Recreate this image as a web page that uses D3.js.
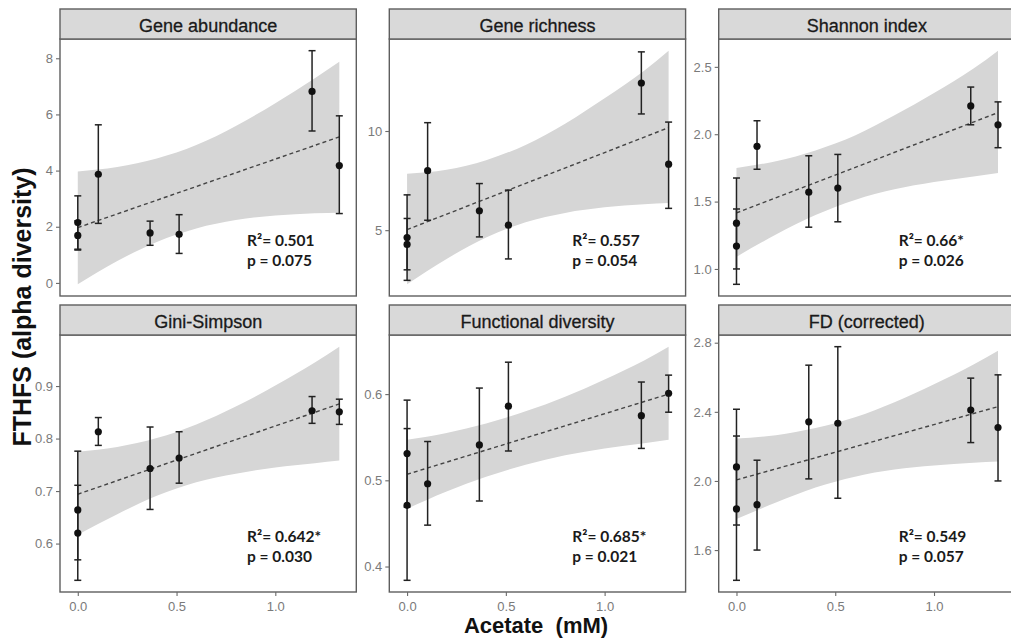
<!DOCTYPE html>
<html>
<head>
<meta charset="utf-8">
<script src="https://cdn.jsdelivr.net/npm/d3@7"></script>
<style>
  body { margin: 0; background: #fff; }
  .tick text { font-family: "Liberation Sans", Arial, sans-serif; font-size: 13px; fill: #7a7a7a; }
  .tick line { stroke: #6a6a6a; stroke-width: 1.1; }
</style>
</head>
<body>
<div id="chart"></div>
<script>
// acetate concentration of each sample (mM), shared by all panels
var acetate = [0, 0, 0.104, 0.366, 0.513, 1.186, 1.324];
// x positions where the confidence band edges were read
var bandX = [0, 0.2, 0.4, 0.6, 0.8, 1.0, 1.2, 1.324];
var xTicks = [0, 0.5, 1.0];

var panelNames = ["Gene abundance", "Gene richness", "Shannon index",
                  "Gini-Simpson", "Functional diversity", "FD (corrected)"];

// Gene abundance
var abundanceMean = [2.15, 1.69, 3.87, 1.78, 1.73, 6.82, 4.18];
var abundanceLo   = [1.20, 1.17, 2.12, 1.34, 1.05, 5.41, 2.47];
var abundanceHi   = [3.10, 2.21, 5.63, 2.20, 2.43, 8.27, 5.95];
var abundanceFit  = [1.97, 5.20];
var abundanceBandLo = [-0.05, 0.78, 1.46, 1.94, 2.24, 2.40, 2.48, 2.50];
var abundanceBandHi = [3.97, 4.13, 4.43, 4.91, 5.59, 6.40, 7.29, 7.88];

// Gene richness
var richnessMean = [4.63, 4.28, 8.00, 5.98, 5.25, 12.42, 8.33];
var richnessLo   = [2.47, 3.00, 5.50, 4.66, 3.55, 10.86, 6.10];
var richnessHi   = [6.78, 5.59, 10.42, 7.35, 7.02, 13.99, 10.45];
var richnessFit  = [5.03, 10.17];
var richnessBandLo = [2.27, 3.55, 4.63, 5.40, 5.87, 6.15, 6.31, 6.37];
var richnessBandHi = [7.85, 8.05, 8.53, 9.30, 10.37, 11.65, 13.04, 14.05];

// Shannon index
var shannonMean = [1.34, 1.17, 1.91, 1.57, 1.60, 2.21, 2.07];
var shannonLo   = [1.00, 0.886, 1.74, 1.31, 1.35, 2.07, 1.90];
var shannonHi   = [1.675, 1.445, 2.10, 1.84, 1.85, 2.35, 2.24];
var shannonFit  = [1.416, 2.16];
var shannonBandLo = [1.09, 1.255, 1.40, 1.512, 1.591, 1.645, 1.687, 1.712];
var shannonBandHi = [1.75, 1.80, 1.88, 1.99, 2.14, 2.305, 2.487, 2.62];

// Gini-Simpson
var giniMean = [0.664, 0.620, 0.813, 0.743, 0.763, 0.853, 0.851];
var giniLo   = [0.569, 0.530, 0.787, 0.665, 0.715, 0.829, 0.827];
var giniHi   = [0.776, 0.711, 0.840, 0.822, 0.813, 0.880, 0.875];
var giniFit  = [0.694, 0.866];
var giniBandLo = [0.617, 0.656, 0.691, 0.717, 0.733, 0.745, 0.753, 0.758];
var giniBandHi = [0.775, 0.784, 0.801, 0.827, 0.861, 0.901, 0.945, 0.975];

// Functional diversity
var funcMean = [0.531, 0.471, 0.496, 0.541, 0.586, 0.575, 0.601];
var funcLo   = [0.469, 0.384, 0.448, 0.476, 0.534, 0.537, 0.579];
var funcHi   = [0.593, 0.560, 0.545, 0.607, 0.637, 0.614, 0.622];
var funcFit  = [0.507, 0.600];
var funcBandLo = [0.467, 0.487, 0.504, 0.518, 0.529, 0.537, 0.543, 0.547];
var funcBandHi = [0.547, 0.555, 0.566, 0.580, 0.597, 0.617, 0.639, 0.655];

// FD (corrected)
var fdcMean = [2.081, 1.838, 1.863, 2.342, 2.334, 2.410, 2.309];
var fdcLo   = [1.745, 1.425, 1.600, 2.012, 1.900, 2.222, 2.000];
var fdcHi   = [2.415, 2.260, 2.120, 2.670, 2.777, 2.595, 2.614];
var fdcFit  = [2.006, 2.43];
var fdcBandLo = [1.78, 1.875, 1.962, 2.025, 2.066, 2.090, 2.105, 2.112];
var fdcBandHi = [2.245, 2.265, 2.306, 2.369, 2.456, 2.560, 2.674, 2.754];

var yTicks = [[0, 2, 4, 6, 8], [5, 10], [1.0, 1.5, 2.0, 2.5],
              [0.6, 0.7, 0.8, 0.9], [0.4, 0.5, 0.6], [1.6, 2.0, 2.4, 2.8]];
var yFormats = ["d", "d", ".1f", ".1f", ".1f", ".1f"];
var r2Labels = ["R\u00b2= 0.501", "R\u00b2= 0.557", "R\u00b2= 0.66*",
                "R\u00b2= 0.642*", "R\u00b2= 0.685*", "R\u00b2= 0.549"];
var pLabels = ["p = 0.075", "p = 0.054", "p = 0.026",
               "p = 0.030", "p = 0.021", "p = 0.057"];

var panels = [
  {mean: abundanceMean, lo: abundanceLo, hi: abundanceHi, fit: abundanceFit, bLo: abundanceBandLo, bHi: abundanceBandHi},
  {mean: richnessMean, lo: richnessLo, hi: richnessHi, fit: richnessFit, bLo: richnessBandLo, bHi: richnessBandHi},
  {mean: shannonMean, lo: shannonLo, hi: shannonHi, fit: shannonFit, bLo: shannonBandLo, bHi: shannonBandHi},
  {mean: giniMean, lo: giniLo, hi: giniHi, fit: giniFit, bLo: giniBandLo, bHi: giniBandHi},
  {mean: funcMean, lo: funcLo, hi: funcHi, fit: funcFit, bLo: funcBandLo, bHi: funcBandHi},
  {mean: fdcMean, lo: fdcLo, hi: fdcHi, fit: fdcFit, bLo: fdcBandLo, bHi: fdcBandHi}
];

var svg = d3.select("#chart").append("svg")
    .attr("width", 1011)
    .attr("height", 638);

// facet layout
var colLeft = [60, 389.3, 718.7], panelW = 296.3;
var rowTop = [9, 305], stripH = 30, rowBottom = [296, 592];
var statsOff = [187, 183, 180];
var border = "#5e5e5e";

panels.forEach(function(p, i) {
  var c = i % 3, r = Math.floor(i / 3);
  var left = colLeft[c], top = rowTop[r], bottom = rowBottom[r], plotTop = top + stripH;

  var x = d3.scaleLinear().domain([-0.09, 1.41]).range([left, left + panelW]);
  // ggplot style 5% expansion around everything drawn
  var ext = d3.extent(p.lo.concat(p.hi, p.bLo, p.bHi));
  var pad = (ext[1] - ext[0]) * 0.05;
  var y = d3.scaleLinear().domain([ext[0] - pad, ext[1] + pad]).range([bottom, plotTop]);

  var g = svg.append("g");

  // confidence band
  var band = bandX.map(function(v, k) { return {x: v, lo: p.bLo[k], hi: p.bHi[k]}; });
  g.append("path")
    .datum(band)
    .attr("fill", "#d6d6d6")
    .attr("d", d3.area()
      .x(function(d) { return x(d.x); })
      .y0(function(d) { return y(d.lo); })
      .y1(function(d) { return y(d.hi); })
      .curve(d3.curveMonotoneX));

  // fitted line
  g.append("line")
    .attr("x1", x(acetate[0])).attr("y1", y(p.fit[0]))
    .attr("x2", x(acetate[acetate.length - 1])).attr("y2", y(p.fit[1]))
    .attr("stroke", "#444")
    .attr("stroke-width", 1.4)
    .attr("stroke-dasharray", "4,3");

  // error bars
  var pts = acetate.map(function(v, k) { return {x: v, m: p.mean[k], lo: p.lo[k], hi: p.hi[k]}; });
  var eb = g.selectAll(".eb").data(pts).enter().append("g").attr("stroke", "#222").attr("stroke-width", 1.5);
  eb.append("line")
    .attr("x1", function(d) { return x(d.x); }).attr("x2", function(d) { return x(d.x); })
    .attr("y1", function(d) { return y(d.lo); }).attr("y2", function(d) { return y(d.hi); });
  eb.append("line")
    .attr("x1", function(d) { return x(d.x) - 3.5; }).attr("x2", function(d) { return x(d.x) + 3.5; })
    .attr("y1", function(d) { return y(d.lo); }).attr("y2", function(d) { return y(d.lo); });
  eb.append("line")
    .attr("x1", function(d) { return x(d.x) - 3.5; }).attr("x2", function(d) { return x(d.x) + 3.5; })
    .attr("y1", function(d) { return y(d.hi); }).attr("y2", function(d) { return y(d.hi); });

  g.selectAll(".pt").data(pts).enter().append("circle")
    .attr("cx", function(d) { return x(d.x); })
    .attr("cy", function(d) { return y(d.m); })
    .attr("r", 3.6)
    .attr("fill", "#111");

  // panel border
  g.append("rect")
    .attr("x", left).attr("y", plotTop)
    .attr("width", panelW).attr("height", bottom - plotTop)
    .attr("fill", "none").attr("stroke", border).attr("stroke-width", 1.4);

  // strip
  g.append("rect")
    .attr("x", left).attr("y", top)
    .attr("width", panelW).attr("height", stripH)
    .attr("fill", "#d9d9d9").attr("stroke", border).attr("stroke-width", 1.4);
  g.append("text")
    .attr("x", left + panelW / 2).attr("y", top + 23)
    .attr("text-anchor", "middle")
    .style("font-family", "'Liberation Sans', Arial, sans-serif")
    .style("font-size", "18px")
    .style("fill", "#1a1a1a")
    .style("stroke", "#1a1a1a")
    .style("stroke-width", 0.3)
    .text(panelNames[i]);

  // y axis
  var ya = g.append("g")
    .attr("transform", "translate(" + left + ",0)")
    .call(d3.axisLeft(y).tickValues(yTicks[i]).tickFormat(d3.format(yFormats[i])).tickSize(4).tickPadding(3));
  ya.select(".domain").remove();

  // x axis only under the bottom row
  if (r == 1) {
    var xa = g.append("g")
      .attr("transform", "translate(0," + bottom + ")")
      .call(d3.axisBottom(x).tickValues(xTicks).tickFormat(d3.format(".1f")).tickSize(4).tickPadding(6));
    xa.select(".domain").remove();
  }

  // stats annotation
  var st = g.append("text")
    .style("font-family", "Lato, 'Open Sans', sans-serif")
    .style("font-weight", "bold")
    .style("font-size", "15.5px")
    .style("fill", "#1a1a1a");
  st.append("tspan").attr("x", left + statsOff[c]).attr("y", top + 237).text(r2Labels[i]);
  st.append("tspan").attr("x", left + statsOff[c]).attr("y", top + 257).text(pLabels[i]);
});

// axis titles
svg.append("text")
  .attr("transform", "translate(31,307) rotate(-90)")
  .attr("text-anchor", "middle")
  .style("font-family", "'Liberation Sans', Arial, sans-serif")
  .style("font-weight", "bold")
  .style("font-size", "25px")
  .style("fill", "#111")
  .text("FTHFS (alpha diversity)");

svg.append("text")
  .attr("x", 536).attr("y", 633)
  .attr("text-anchor", "middle")
  .attr("xml:space", "preserve")
  .style("white-space", "pre")
  .style("font-family", "'Liberation Sans', Arial, sans-serif")
  .style("font-weight", "bold")
  .style("font-size", "22px")
  .style("fill", "#111")
  .text("Acetate  (mM)");
</script>
</body>
</html>
